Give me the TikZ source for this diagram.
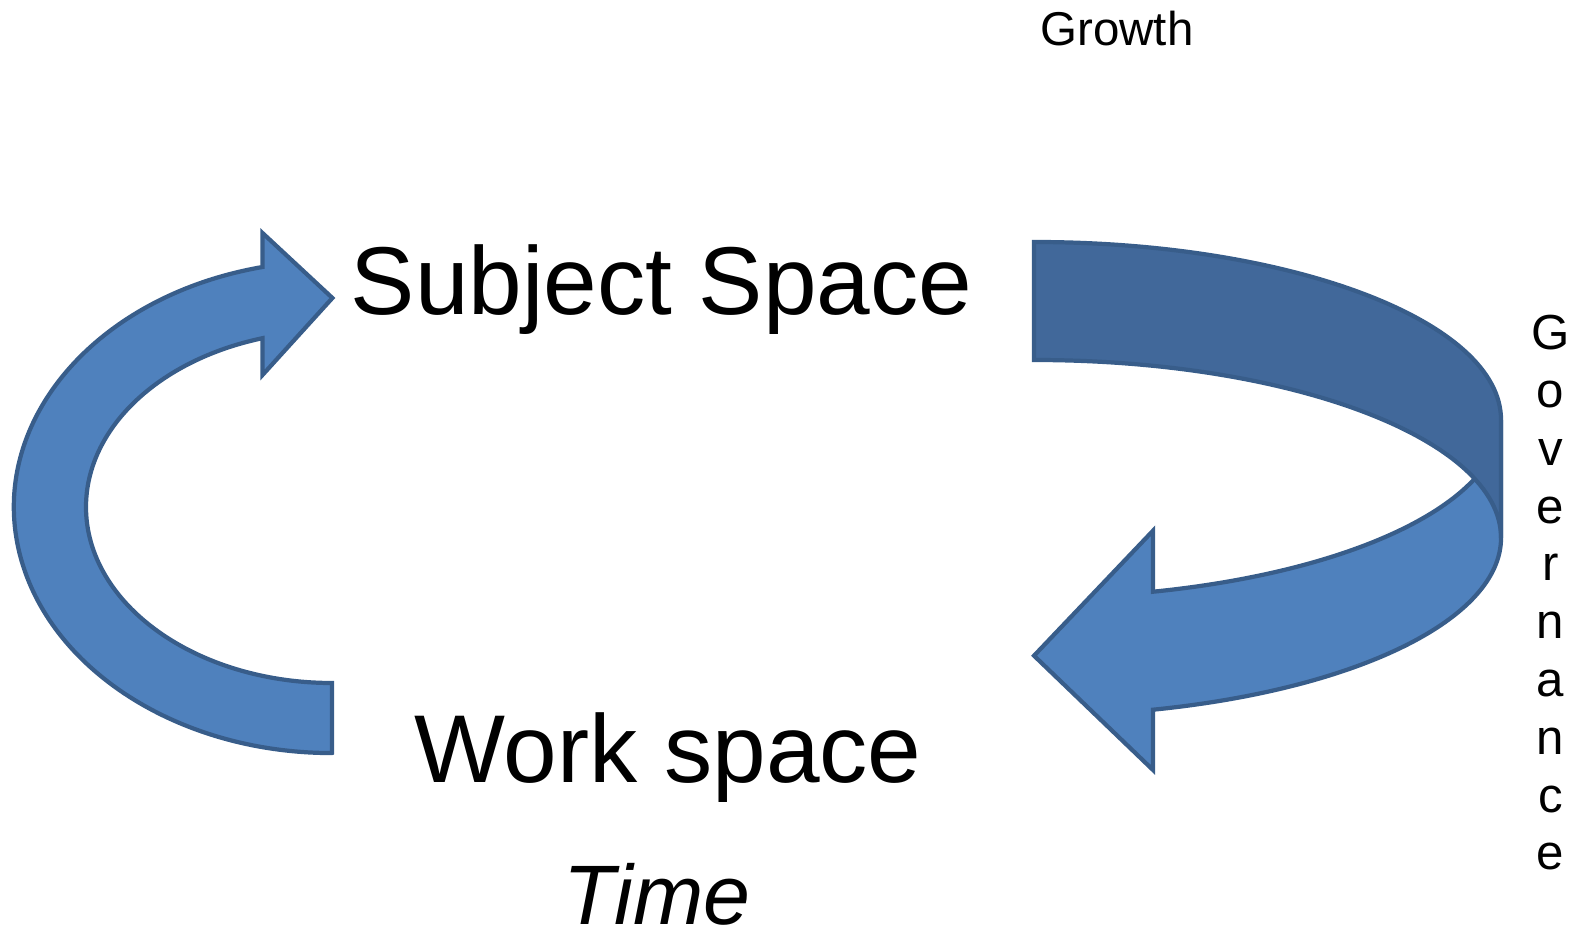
\documentclass[tikz,border=0pt]{standalone}
\usepackage{fontspec}
\setmainfont{Liberation Sans}
\definecolor{arrowblue}{HTML}{4F81BD}
\definecolor{arrowdark}{HTML}{41689A}
\definecolor{arrowline}{HTML}{385D8A}

\begin{document}
\begin{tikzpicture}[x=0.01cm,y=-0.01cm,
        bluearrow/.style={fill=arrowblue,draw=arrowline,line width=1.2pt},
        backband/.style={fill=arrowdark,draw=arrowline,line width=1.2pt},
        bigtext/.style={font=\fontsize{27.4}{32}\selectfont,anchor=base,inner sep=0pt},
        govtext/.style={font=\fontsize{14}{16}\selectfont,anchor=base,inner sep=0pt}]
        \useasboundingbox (0,0) rectangle (1589,931);
        % left arrow, Work space back up to Subject Space
        \draw[bluearrow] (332,753) -- (332,683)
            arc[start angle=90,end angle=253.6,x radius=246,y radius=176]
            -- (262.5,375) -- (332.4,298) -- (262.5,233) -- (262.5,267)
            arc[start angle=257.4,end angle=90,x radius=318,y radius=246] -- cycle;
        % right ribbon, front part first
        \draw[bluearrow] (1501,419.8)
            arc[start angle=0,end angle=75.24,x radius=467,y radius=177.8]
            -- (1153,530.7) -- (1034,655.7) -- (1153,770) -- (1153,709.7)
            arc[start angle=75.24,end angle=0,x radius=467,y radius=177.8] -- cycle;
        \draw[backband] (1034,242)
            arc[start angle=-90,end angle=0,x radius=467,y radius=177.8]
            -- (1501,537.8)
            arc[start angle=0,end angle=-90,x radius=467,y radius=177.8] -- cycle;
        % labels
        \node[bigtext] (subj) at (661.5,315) {Subject Space};
        \node[bigtext] (work) at (668,782) {Work space};
        \node[font=\fontsize{24}{28}\selectfont\itshape,anchor=base,inner sep=0pt] (time) at (657,924) {Time};
        \node[font=\fontsize{13.5}{16}\selectfont,anchor=base,inner sep=0pt] (growth) at (1117,45.6) {Growth};
        \foreach \ch [count=\i from 0] in {G,o,v,e,r,n,a,n,c,e}
            \node[govtext] (gov\i) at (1550.5,{349.6+57.8*\i}) {\ch};
\end{tikzpicture}
\end{document}
